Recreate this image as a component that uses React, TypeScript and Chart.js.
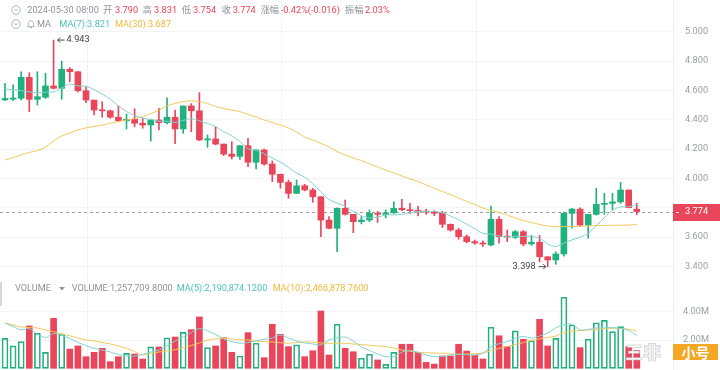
import React, { useEffect, useRef } from 'react';
import { Chart, registerables } from 'chart.js';

Chart.register(...registerables);

// ---------- data ----------
const opens = [
  4.535, 4.540, 4.546, 4.689, 4.539, 4.553, 4.630, 4.614, 4.744, 4.727,
  4.598, 4.534, 4.466, 4.461, 4.417, 4.393, 4.403, 4.376, 4.364, 4.398,
  4.380, 4.417, 4.337, 4.494, 4.461, 4.262, 4.269, 4.234, 4.166, 4.150,
  4.223, 4.110, 4.194, 4.098, 4.028, 3.973, 3.898, 3.950, 3.921, 3.875,
  3.716, 3.660, 3.796, 3.755, 3.705, 3.716, 3.762, 3.755, 3.765, 3.796,
  3.787, 3.780, 3.775, 3.770, 3.762, 3.687, 3.648, 3.603, 3.569, 3.560,
  3.546, 3.721, 3.603, 3.598, 3.637, 3.553, 3.565, 3.466, 3.444, 3.485,
  3.762, 3.791, 3.682, 3.755, 3.823, 3.830, 3.840, 3.921, 3.790,
];
const highs = [
  4.648, 4.637, 4.727, 4.720, 4.727, 4.716, 4.943, 4.800, 4.755, 4.730,
  4.625, 4.534, 4.523, 4.466, 4.494, 4.439, 4.475, 4.410, 4.403, 4.478,
  4.550, 4.466, 4.494, 4.510, 4.585, 4.296, 4.352, 4.234, 4.250, 4.225,
  4.273, 4.194, 4.200, 4.119, 4.030, 3.989, 3.989, 3.960, 3.933, 3.875,
  3.739, 3.800, 3.853, 3.755, 3.740, 3.785, 3.775, 3.785, 3.841, 3.858,
  3.830, 3.810, 3.790, 3.780, 3.775, 3.690, 3.660, 3.615, 3.580, 3.575,
  3.812, 3.739, 3.648, 3.645, 3.645, 3.611, 3.611, 3.466, 3.500, 3.770,
  3.796, 3.800, 3.755, 3.933, 3.898, 3.898, 3.973, 3.921, 3.831,
];
const lows = [
  4.530, 4.530, 4.534, 4.455, 4.500, 4.545, 4.610, 4.539, 4.659, 4.590,
  4.516, 4.432, 4.417, 4.410, 4.387, 4.337, 4.352, 4.342, 4.255, 4.330,
  4.371, 4.237, 4.307, 4.318, 4.257, 4.212, 4.228, 4.155, 4.132, 4.130,
  4.080, 4.064, 4.090, 3.978, 3.933, 3.864, 3.898, 3.915, 3.837, 3.603,
  3.655, 3.500, 3.750, 3.630, 3.690, 3.705, 3.700, 3.730, 3.762, 3.780,
  3.760, 3.745, 3.755, 3.745, 3.665, 3.640, 3.585, 3.560, 3.550, 3.535,
  3.539, 3.558, 3.569, 3.590, 3.540, 3.543, 3.432, 3.398, 3.414, 3.470,
  3.660, 3.675, 3.592, 3.750, 3.755, 3.785, 3.830, 3.800, 3.754,
];
const closes = [
  4.545, 4.548, 4.689, 4.539, 4.557, 4.630, 4.614, 4.744, 4.727, 4.598,
  4.534, 4.466, 4.461, 4.417, 4.393, 4.403, 4.376, 4.364, 4.398, 4.380,
  4.417, 4.337, 4.494, 4.461, 4.262, 4.270, 4.234, 4.166, 4.150, 4.223,
  4.110, 4.194, 4.098, 4.028, 3.973, 3.898, 3.950, 3.921, 3.875, 3.716,
  3.660, 3.796, 3.755, 3.705, 3.716, 3.762, 3.755, 3.765, 3.796, 3.787,
  3.780, 3.775, 3.770, 3.762, 3.687, 3.648, 3.603, 3.569, 3.560, 3.553,
  3.721, 3.603, 3.600, 3.637, 3.553, 3.565, 3.466, 3.444, 3.485, 3.762,
  3.791, 3.682, 3.755, 3.823, 3.830, 3.840, 3.921, 3.800, 3.774,
];
const ma7 = [
  4.609, 4.605, 4.598, 4.590, 4.583, 4.588, 4.589, 4.617, 4.643, 4.630,
  4.629, 4.605, 4.575, 4.540, 4.495, 4.455, 4.428, 4.411, 4.402, 4.390,
  4.390, 4.382, 4.395, 4.407, 4.393, 4.374, 4.354, 4.318, 4.291, 4.252,
  4.202, 4.192, 4.168, 4.138, 4.111, 4.075, 4.036, 4.009, 3.963, 3.909,
  3.856, 3.831, 3.810, 3.775, 3.746, 3.730, 3.736, 3.751, 3.751, 3.755,
  3.766, 3.774, 3.775, 3.776, 3.765, 3.744, 3.718, 3.688, 3.657, 3.626,
  3.620, 3.608, 3.601, 3.606, 3.604, 3.605, 3.592, 3.553, 3.536, 3.559,
  3.581, 3.599, 3.626, 3.677, 3.733, 3.783, 3.806, 3.807, 3.821,
];
const ma30 = [
  4.125, 4.142, 4.160, 4.177, 4.190, 4.214, 4.255, 4.289, 4.310, 4.330,
  4.344, 4.354, 4.364, 4.376, 4.388, 4.398, 4.408, 4.421, 4.442, 4.466,
  4.494, 4.511, 4.524, 4.529, 4.524, 4.511, 4.490, 4.476, 4.466, 4.455,
  4.436, 4.419, 4.398, 4.381, 4.364, 4.344, 4.316, 4.282, 4.262, 4.238,
  4.214, 4.183, 4.160, 4.139, 4.122, 4.098, 4.078, 4.057, 4.037, 4.016,
  3.996, 3.979, 3.955, 3.933, 3.911, 3.890, 3.866, 3.843, 3.822, 3.798,
  3.781, 3.768, 3.750, 3.730, 3.713, 3.699, 3.686, 3.676, 3.671, 3.671,
  3.672, 3.673, 3.676, 3.678, 3.679, 3.680, 3.681, 3.682, 3.687,
];
// volumes in millions
const volumes = [
  2.12, 1.58, 1.88, 2.99, 2.47, 1.13, 3.53, 2.40, 1.36, 1.58,
  0.82, 1.13, 1.41, 0.47, 0.82, 1.06, 1.01, 0.66, 1.51, 1.51,
  2.16, 2.21, 2.54, 2.73, 3.63, 1.46, 1.58, 2.16, 1.13, 0.87,
  2.52, 1.77, 0.75, 3.11, 2.40, 1.53, 1.65, 0.82, 1.24, 4.05,
  0.94, 3.11, 1.41, 1.17, 0.71, 0.99, 0.59, 0.28, 1.13, 1.70,
  1.70, 1.13, 0.42, 0.30, 0.87, 0.87, 1.70, 1.22, 0.92, 0.66,
  2.90, 2.30, 1.53, 2.64, 2.05, 1.95, 3.46, 1.58, 2.12, 5.02,
  3.06, 1.46, 2.05, 3.22, 3.39, 2.59, 2.94, 1.53, 1.258,
];
const volMa5 = [
  3.20, 2.95, 2.71, 2.81, 2.42, 2.18, 2.46, 2.32, 2.11, 1.82,
  1.61, 1.40, 1.29, 1.15, 0.98, 0.87, 0.87, 0.98, 1.15, 1.29,
  1.58, 1.93, 2.21, 2.53, 2.81, 2.64, 2.39, 2.07, 1.89, 1.77,
  1.82, 1.93, 2.04, 2.14, 2.35, 2.14, 1.93, 1.79, 1.72, 1.65,
  2.00, 2.14, 2.21, 1.93, 1.51, 1.26, 1.01, 0.83, 0.83, 1.15,
  1.26, 1.12, 0.94, 0.83, 0.83, 0.94, 0.99, 0.96, 0.94, 1.06,
  1.51, 1.75, 1.88, 2.11, 2.25, 2.14, 2.28, 2.49, 2.85, 3.08,
  3.11, 2.71, 2.74, 2.85, 2.86, 2.87, 2.83, 2.67, 2.32,
];
const volMa10 = [
  3.20, 3.06, 2.92, 2.88, 2.85, 2.71, 2.59, 2.42, 2.30, 2.14,
  2.00, 1.93, 1.82, 1.72, 1.58, 1.41, 1.19, 0.94, 1.05, 1.15,
  1.22, 1.31, 1.47, 1.61, 1.79, 2.00, 2.07, 2.11, 2.07, 2.02,
  2.00, 1.93, 1.89, 1.86, 1.81, 1.77, 1.82, 1.87, 1.84, 1.79,
  1.77, 1.77, 1.77, 1.72, 1.68, 1.63, 1.58, 1.53, 1.43, 1.29,
  1.21, 1.14, 1.10, 1.08, 1.06, 1.02, 0.99, 1.01, 1.04, 1.08,
  1.26, 1.40, 1.54, 1.68, 1.82, 1.98, 2.08, 2.18, 2.28, 2.53,
  2.61, 2.67, 2.71, 2.74, 2.81, 2.83, 2.81, 2.76, 2.64,
];
const priceTicks = [3.4, 3.6, 3.8, 4.0, 4.2, 4.4, 4.6, 4.8, 5.0];
const hiddenPriceTicks = [3.8];
const volumeTicks = [2, 4];
const timeGrid = [10.2, 34.1, 58.2];

const headerRow1: [number, string, 'g' | 'r'][] = [
  [27.3, '2024-05-30 08:00', 'g'], [103, '开', 'g'], [115, '3.790', 'r'],
  [142.7, '高', 'g'], [154, '3.831', 'r'], [181.7, '低', 'g'], [193, '3.754', 'r'],
  [221.7, '收', 'g'], [232.7, '3.774', 'r'], [260.7, '涨幅', 'g'],
  [280.7, '-0.42%(-0.016)', 'r'], [345, '振幅', 'g'], [365, '2.03%', 'r'],
];

// ---------- styles ----------
const RED = '#E9465B';
const GREEN = '#21B17E';
const MA7_LINE = '#82D2CE';
const MA30_LINE = '#F2C85A';
const TEAL_TXT = '#4EC3BA';
const YEL_TXT = '#F0B73A';
const GRAY = '#8E939B';
const AXIS = '#9A9EA5';
const GRID = '#F2F3F5';
const FONT = 'Roboto, "Noto Sans CJK SC", "DejaVu Sans", sans-serif';
const FS = 9.2;

const AXIS_W = 47;
const PRICE_H = 277;
const VOL_H = 93;
const X_MIN = -0.617;
const X_MAX = 82.47;
const P_MIN = 3.3279;
const P_MAX = 5.2161;
const V_MIN = -0.12;
const V_MAX = 6.452;

function xScale() {
  return {
    type: 'linear' as const,
    min: X_MIN,
    max: X_MAX,
    offset: false,
    display: true,
    grid: { color: GRID, drawTicks: false, offset: false },
    border: { display: false },
    ticks: { display: false },
    afterBuildTicks: (s: any) => { s.ticks = timeGrid.map((v) => ({ value: v })); },
    afterFit: (s: any) => { s.height = 0; s.paddingLeft = 0; s.paddingRight = 0; },
  };
}

function Circle() {
  return (
    <svg width="10" height="10" viewBox="0 0 10 10" style={{ display: 'block' }}>
      <circle cx="5" cy="5" r="4.3" fill="none" stroke="#A5A9B0" strokeWidth="0.9" />
      <polyline points="3.2,4.2 5,6 6.8,4.2" fill="none" stroke="#A5A9B0" strokeWidth="0.9" />
    </svg>
  );
}

function Txt({ x, y, color, children, size = FS }: any) {
  return (
    <span style={{ position: 'absolute', left: x, top: y - 6, lineHeight: '12px', fontSize: size, color, fontFamily: FONT, whiteSpace: 'nowrap' }}>
      {children}
    </span>
  );
}

export default function App() {
  const priceRef = useRef<HTMLCanvasElement>(null);
  const volRef = useRef<HTMLCanvasElement>(null);

  useEffect(() => {
    const idx = closes.map((_, i) => i);
    const up = closes.map((c, i) => c >= opens[i]);
    const col = up.map((u) => (u ? GREEN : RED));
    const last = closes.length - 1;

    const pricePlugin = {
      id: 'priceExtras',
      beforeDatasetsDraw(chart: any) {
        const { ctx, chartArea } = chart;
        const y = chart.scales.y.getPixelForValue(closes[last]);
        ctx.save();
        ctx.strokeStyle = '#9E9E9E';
        ctx.lineWidth = 1;
        ctx.setLineDash([3, 3]);
        ctx.beginPath();
        ctx.moveTo(chartArea.left, Math.round(y) + 0.5);
        ctx.lineTo(chartArea.right, Math.round(y) + 0.5);
        ctx.stroke();
        ctx.restore();
      },
      afterDraw(chart: any) {
        const { ctx, chartArea } = chart;
        const ys = chart.scales.y;
        const xs = chart.scales.x;
        const y = ys.getPixelForValue(closes[last]);
        ctx.save();
        // current price box
        ctx.fillStyle = RED;
        ctx.fillRect(chartArea.right, Math.round(y) - 8, AXIS_W, 17);
        ctx.strokeStyle = '#ffffff';
        ctx.lineWidth = 1;
        ctx.beginPath();
        ctx.moveTo(chartArea.right + 3, Math.round(y) + 0.5);
        ctx.lineTo(chartArea.right + 6, Math.round(y) + 0.5);
        ctx.stroke();
        ctx.fillStyle = '#ffffff';
        ctx.font = `${FS}px ${FONT}`;
        ctx.textBaseline = 'middle';
        ctx.textAlign = 'left';
        ctx.fillText(closes[last].toFixed(3), chartArea.right + 12, y + 0.5);

        // high / low annotations
        let hi = 0, lo = 0;
        highs.forEach((h, i) => { if (h > highs[hi]) hi = i; });
        lows.forEach((l, i) => { if (l < lows[lo]) lo = i; });
        ctx.fillStyle = '#444';
        ctx.strokeStyle = '#444';
        const hx = xs.getPixelForValue(hi) + 4;
        const hy = ys.getPixelForValue(highs[hi]);
        ctx.beginPath();
        ctx.moveTo(hx, hy); ctx.lineTo(hx + 7, hy);
        ctx.moveTo(hx + 2.5, hy - 2.5); ctx.lineTo(hx, hy); ctx.lineTo(hx + 2.5, hy + 2.5);
        ctx.stroke();
        ctx.fillText(highs[hi].toFixed(3), hx + 9, hy);
        const lx = xs.getPixelForValue(lo) - 2;
        const ly = ys.getPixelForValue(lows[lo]);
        ctx.beginPath();
        ctx.moveTo(lx, ly); ctx.lineTo(lx - 7, ly);
        ctx.moveTo(lx - 2.5, ly - 2.5); ctx.lineTo(lx, ly); ctx.lineTo(lx - 2.5, ly + 2.5);
        ctx.stroke();
        ctx.textAlign = 'right';
        ctx.fillText(lows[lo].toFixed(3), lx - 10, ly);
        ctx.restore();
      },
    };

    const price = new Chart(priceRef.current as HTMLCanvasElement, {
      type: 'bar',
      data: {
        datasets: [
          { type: 'line', data: idx.map((i) => ({ x: i, y: ma7[i] })), borderColor: MA7_LINE, borderWidth: 1, pointRadius: 0, tension: 0.3 } as any,
          { type: 'line', data: idx.map((i) => ({ x: i, y: ma30[i] })), borderColor: MA30_LINE, borderWidth: 1, pointRadius: 0, tension: 0.3 } as any,
          {
            type: 'bar',
            data: idx.map((i) => ({ x: i, y: [Math.min(opens[i], closes[i]), Math.max(opens[i], closes[i])] })),
            backgroundColor: col, borderWidth: 0, barThickness: 6, minBarLength: 1, grouped: false,
          } as any,
          {
            type: 'bar',
            data: idx.map((i) => ({ x: i, y: [lows[i], highs[i]] })),
            backgroundColor: col, borderWidth: 0, barThickness: 1, grouped: false,
          } as any,
        ],
      },
      options: {
        animation: false,
        responsive: false,
        events: [],
        layout: { padding: 0 },
        plugins: { legend: { display: false }, tooltip: { enabled: false } },
        scales: {
          x: xScale() as any,
          y: {
            type: 'linear',
            position: 'right',
            min: P_MIN,
            max: P_MAX,
            grid: { color: GRID, drawTicks: false },
            border: { display: true, color: '#EEEFF1' },
            ticks: {
              color: AXIS,
              font: { size: FS, family: FONT },
              padding: 12,
              callback: (v: any) => (hiddenPriceTicks.includes(Number(v)) ? '' : Number(v).toFixed(3)),
            },
            afterBuildTicks: (s: any) => { s.ticks = priceTicks.map((v) => ({ value: v })); },
            afterFit: (s: any) => { s.width = AXIS_W; s.paddingTop = 0; s.paddingBottom = 0; },
          } as any,
        },
      },
      plugins: [pricePlugin],
    });

    const vol = new Chart(volRef.current as HTMLCanvasElement, {
      type: 'bar',
      data: {
        datasets: [
          { type: 'line', data: idx.map((i) => ({ x: i, y: volMa5[i] })), borderColor: MA7_LINE, borderWidth: 1, pointRadius: 0, tension: 0.3 } as any,
          { type: 'line', data: idx.map((i) => ({ x: i, y: volMa10[i] })), borderColor: MA30_LINE, borderWidth: 1, pointRadius: 0, tension: 0.3 } as any,
          {
            type: 'bar',
            data: idx.map((i) => ({ x: i, y: volumes[i] })),
            backgroundColor: up.map((u) => (u ? 'rgba(255,255,255,0)' : RED)),
            borderColor: col,
            borderWidth: up.map((u) => (u ? 1 : 0)),
            borderSkipped: false,
            barThickness: 6,
            grouped: false,
          } as any,
        ],
      },
      options: {
        animation: false,
        responsive: false,
        events: [],
        layout: { padding: 0 },
        plugins: { legend: { display: false }, tooltip: { enabled: false } },
        scales: {
          x: xScale() as any,
          y: {
            type: 'linear',
            position: 'right',
            min: V_MIN,
            max: V_MAX,
            grid: { color: GRID, drawTicks: false },
            border: { display: true, color: '#EEEFF1' },
            ticks: {
              color: AXIS,
              font: { size: FS, family: FONT },
              padding: 10,
              callback: (v: any) => `${Number(v).toFixed(2)}M`,
            },
            afterBuildTicks: (s: any) => { s.ticks = volumeTicks.map((v) => ({ value: v })); },
            afterFit: (s: any) => { s.width = AXIS_W; s.paddingTop = 0; s.paddingBottom = 0; },
          } as any,
        },
      },
    });

    return () => { price.destroy(); vol.destroy(); };
  }, []);

  return (
    <div style={{ position: 'absolute', left: 0, top: 0, width: 720, height: 370, background: '#fff', overflow: 'hidden' }}>
      <canvas ref={priceRef} width={720} height={PRICE_H} style={{ position: 'absolute', left: 0, top: 0, display: 'block' }} />
      <canvas ref={volRef} width={720} height={VOL_H} style={{ position: 'absolute', left: 0, top: PRICE_H, display: 'block' }} />

      {/* header row 1 */}
      <div style={{ position: 'absolute', left: 11, top: 5 }}><Circle /></div>
      {headerRow1.map(([x, t, c], k) => (
        <Txt key={k} x={x} y={10} color={c === 'r' ? RED : GRAY}>{t}</Txt>
      ))}

      {/* header row 2 */}
      <div style={{ position: 'absolute', left: 11, top: 19 }}><Circle /></div>
      <svg width="8" height="9" viewBox="0 0 8 9" style={{ position: 'absolute', left: 27, top: 19.5 }}>
        <path d="M4 0.8 C2.2 0.8 1.4 2.2 1.4 3.6 L1.4 5.6 L0.6 6.6 L7.4 6.6 L6.6 5.6 L6.6 3.6 C6.6 2.2 5.8 0.8 4 0.8 Z" fill="none" stroke="#A5A9B0" strokeWidth="0.9" />
        <path d="M3 7.6 L5 7.6" stroke="#A5A9B0" strokeWidth="0.9" />
      </svg>
      <Txt x={37} y={24} color={GRAY}>MA</Txt>
      <Txt x={59.3} y={24} color={TEAL_TXT}>MA(7):3.821</Txt>
      <Txt x={115} y={24} color={YEL_TXT}>MA(30):3.687</Txt>

      {/* volume header */}
      <div style={{ position: 'absolute', left: 0, top: 282, width: 2, height: 24, background: '#D5D7DB' }} />
      <Txt x={15} y={288.3} color={GRAY}>VOLUME</Txt>
      <svg width="6" height="4" viewBox="0 0 6 4" style={{ position: 'absolute', left: 59, top: 287 }}>
        <polygon points="0,0 6,0 3,3.5" fill="#8E939B" />
      </svg>
      <Txt x={71.7} y={288.3} color={GRAY}>VOLUME:1,257,709.8000</Txt>
      <Txt x={176.7} y={288.3} color={TEAL_TXT}>MA(5):2,190,874.1200</Txt>
      <Txt x={272.7} y={288.3} color={YEL_TXT}>MA(10):2,466,878.7600</Txt>

      {/* watermark */}
      <span style={{ position: 'absolute', left: 625, top: 340, fontSize: 18, lineHeight: '22px', fontWeight: 700, color: 'rgba(255,255,255,0.92)', WebkitTextStroke: '0.6px #B8BBC0', fontFamily: '"Noto Sans CJK SC", sans-serif' }}>三非</span>
      <span style={{ position: 'absolute', left: 673, top: 344, width: 45, height: 16, lineHeight: '16px', textAlign: 'center', background: '#F5A623', color: '#fff', fontSize: 14, fontWeight: 700, fontFamily: '"Noto Sans CJK SC", sans-serif' }}>小号</span>
    </div>
  );
}
